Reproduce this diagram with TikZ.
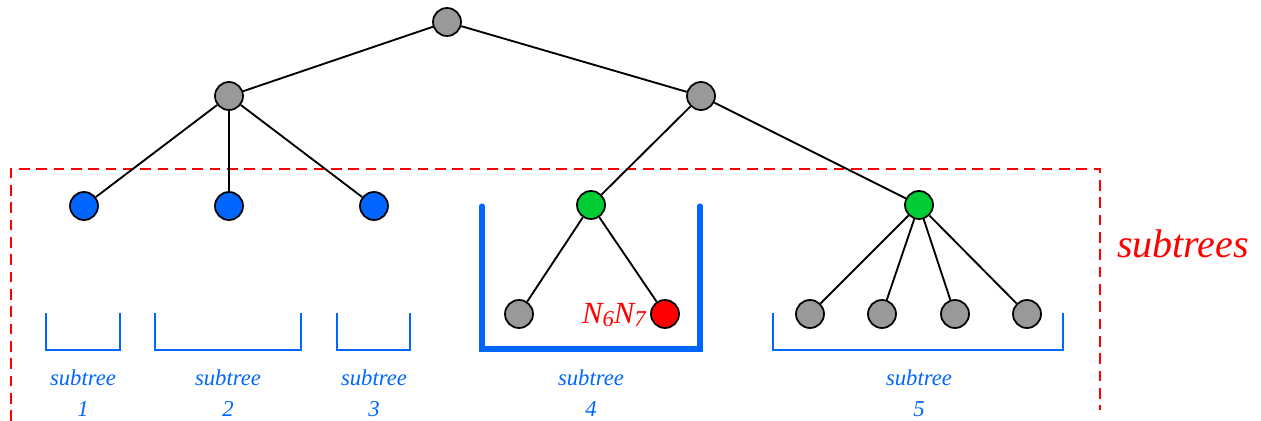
\documentclass[tikz,border=0pt]{standalone}
\usepackage{fontspec}
\setmainfont{Liberation Serif}
\begin{document}
\begin{tikzpicture}[x=0.75pt,y=-0.75pt,
  nd/.style={circle,draw=black,line width=1.3pt,minimum size=21pt,inner sep=0pt},
  gnode/.style={nd,fill=gray!80},
  bnode/.style={nd,fill={rgb,255:red,0;green,102;blue,255}},
  grnode/.style={nd,fill={rgb,255:red,0;green,204;blue,51}},
  rnode/.style={nd,fill=red},
  edge/.style={line width=1.4pt},
  brk/.style={draw={rgb,255:red,0;green,102;blue,255},line width=1.2pt},
  brkthick/.style={draw={rgb,255:red,0;green,102;blue,255},line width=3.8pt,line cap=round},
  lbl/.style={text={rgb,255:red,0;green,102;blue,255},font=\fontsize{17}{19}\selectfont\itshape,align=center,inner sep=0pt}
]
\useasboundingbox (0,0) rectangle (1261,421);
% dashed frame
\coordinate (f1) at (11,421);
\coordinate (f2) at (11,169);
\coordinate (f3) at (1100,169);
\coordinate (f4) at (1100,410);
\draw[red,line width=1.3pt,dash pattern=on 8pt off 5pt] (f1) -- (f2) -- (f3) -- (f4);
\node[red,font=\fontsize{30}{33}\selectfont\itshape,inner sep=0pt] (st) at (1183,244) {subtrees};

% brackets
\draw[brk] (46,313) -- (46,350) -- (120,350) -- (120,313);
\draw[brk] (155,313) -- (155,350) -- (301,350) -- (301,313);
\draw[brk] (337,313) -- (337,350) -- (410,350) -- (410,313);
\draw[brk] (773,313) -- (773,350) -- (1063,350) -- (1063,313);
\draw[brkthick] (482,206) -- (482,349) -- (700,349) -- (700,206);

% labels
\node[lbl] (l1) at (83,393) {subtree\\[4pt]1};
\node[lbl] (l2) at (228,393) {subtree\\[4pt]2};
\node[lbl] (l3) at (374,393) {subtree\\[4pt]3};
\node[lbl] (l4) at (591,393) {subtree\\[4pt]4};
\node[lbl] (l5) at (919,393) {subtree\\[4pt]5};

% nodes
\node[gnode] (root) at (447,22) {};
\node[gnode] (L) at (229,96) {};
\node[gnode] (R) at (701,96) {};
\node[bnode] (b1) at (84,206) {};
\node[bnode] (b2) at (229,206) {};
\node[bnode] (b3) at (374,206) {};
\node[grnode] (g1) at (591,205) {};
\node[grnode] (g2) at (919,205) {};
\node[gnode] (c1) at (519,314) {};
\node[rnode] (c2) at (665,314) {};
\node[gnode] (d1) at (810,314) {};
\node[gnode] (d2) at (882,314) {};
\node[gnode] (d3) at (955,314) {};
\node[gnode] (d4) at (1027,314) {};
\node[red,font=\fontsize{23}{26}\selectfont\itshape,anchor=east,inner sep=0pt] (nl) at (646,315) {N\raisebox{-0.12em}{\fontsize{17}{18}\selectfont 6}N\raisebox{-0.12em}{\fontsize{17}{18}\selectfont 7}};

% edges
\draw[edge] (root) -- (L);
\draw[edge] (root) -- (R);
\draw[edge] (L) -- (b1);
\draw[edge] (L) -- (b2);
\draw[edge] (L) -- (b3);
\draw[edge] (R) -- (g1);
\draw[edge] (R) -- (g2);
\draw[edge] (g1) -- (c1);
\draw[edge] (g1) -- (c2);
\draw[edge] (g2) -- (d1);
\draw[edge] (g2) -- (d2);
\draw[edge] (g2) -- (d3);
\draw[edge] (g2) -- (d4);
\end{tikzpicture}
\end{document}
